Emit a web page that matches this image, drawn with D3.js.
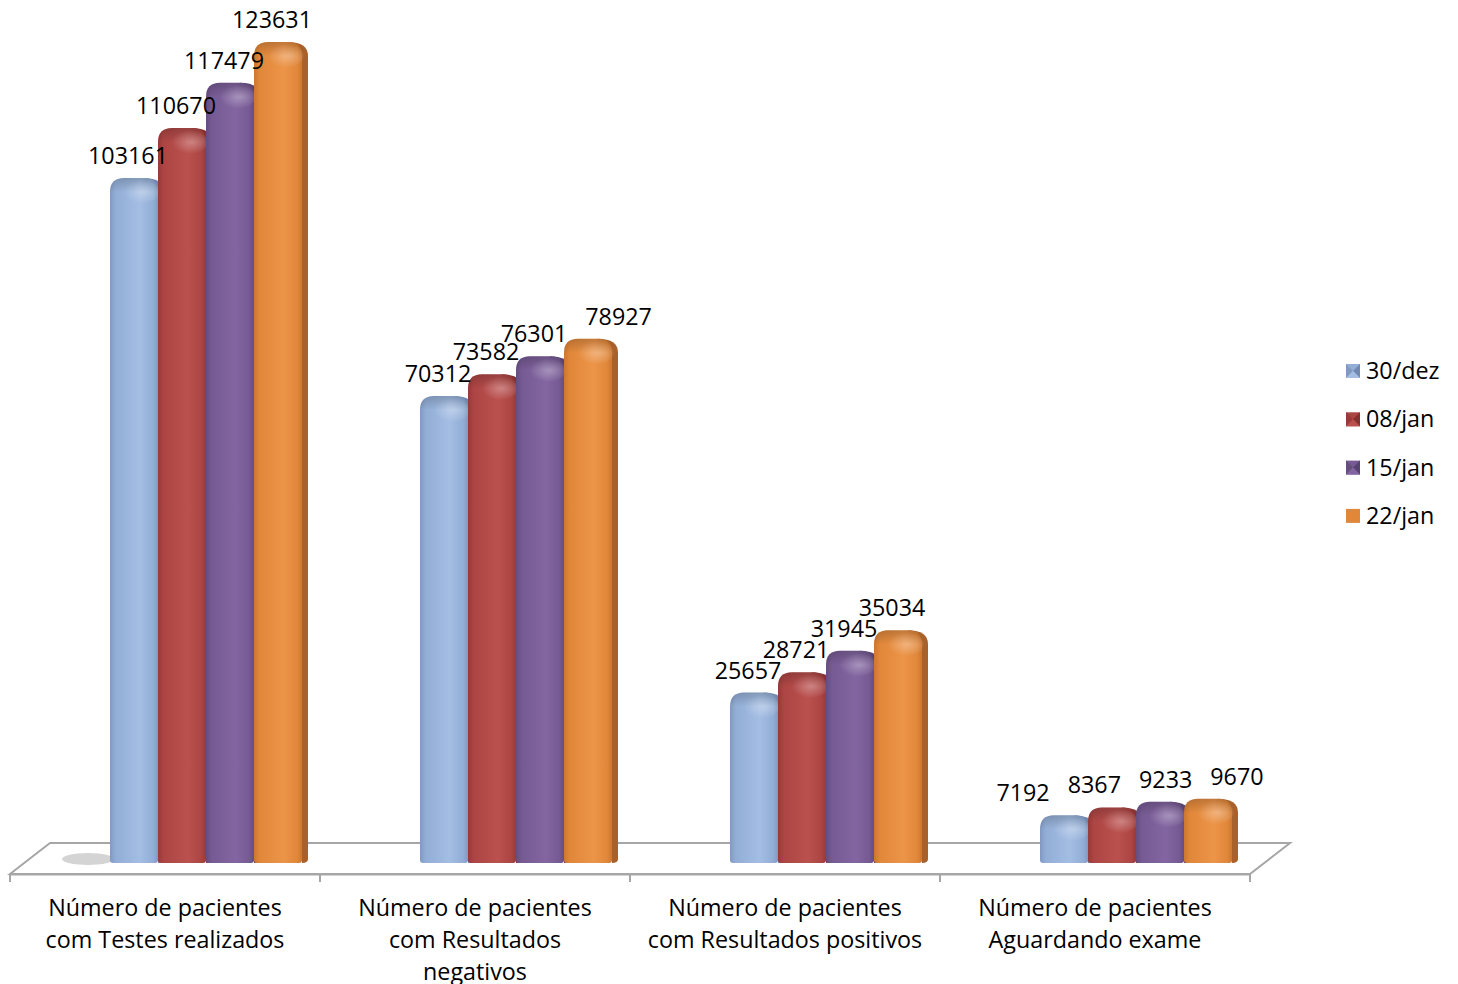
<!DOCTYPE html>
<html><head><meta charset="utf-8">
<script src="https://cdn.jsdelivr.net/npm/d3@7"></script>
<style>body{margin:0;background:#fff}svg{display:block}</style>
</head><body>
<svg id="c" width="1458" height="984"></svg>
<script>
const categories = [
  ["Número de pacientes","com Testes realizados"],
  ["Número de pacientes","com Resultados","negativos"],
  ["Número de pacientes","com Resultados positivos"],
  ["Número de pacientes","Aguardando exame"]
];
const seriesNames = ["30/dez","08/jan","15/jan","22/jan"];
const s30dez = [103161, 70312, 25657, 7192];
const s08jan = [110670, 73582, 28721, 8367];
const s15jan = [117479, 76301, 31945, 9233];
const s22jan = [123631, 78927, 35034, 9670];
const seriesValues = [s30dez, s08jan, s15jan, s22jan];
const colors = [
  {base:"#93AED6", dark:"#8099C2", light:"#A3BDE3", side:"#7189B0"},
  {base:"#AC4543", dark:"#973A39", light:"#BA514F", side:"#843231"},
  {base:"#765A93", dark:"#654D80", light:"#8366A1", side:"#574370"},
  {base:"#E0873A", dark:"#CC7630", light:"#EC9448", side:"#A8612A"}
];
const FONT = "'Open Sans', sans-serif";
const FS = 23.3;

const svg = d3.select("#c");
const defs = svg.append("defs");
colors.forEach((c,i)=>{
  const g = defs.append("linearGradient").attr("id","g"+i).attr("x1","0").attr("x2","1").attr("y1","0").attr("y2","0");
  g.append("stop").attr("offset","0%").attr("stop-color",c.dark);
  g.append("stop").attr("offset","12%").attr("stop-color",c.base);
  g.append("stop").attr("offset","62%").attr("stop-color",c.light);
  g.append("stop").attr("offset","90%").attr("stop-color",c.base);
  g.append("stop").attr("offset","100%").attr("stop-color",c.dark);
  const t = defs.append("radialGradient").attr("id","t"+i).attr("cx","0.6").attr("cy","0.5").attr("r","0.5");
  t.append("stop").attr("offset","0%").attr("stop-color","#fff").attr("stop-opacity",0.3);
  t.append("stop").attr("offset","100%").attr("stop-color","#fff").attr("stop-opacity",0);
});
const rim = defs.append("linearGradient").attr("id","rim").attr("x1","0").attr("x2","0").attr("y1","0").attr("y2","1");
rim.append("stop").attr("offset","0%").attr("stop-color","#000").attr("stop-opacity",0.18);
rim.append("stop").attr("offset","100%").attr("stop-color","#000").attr("stop-opacity",0);

// layout
const floorFrontY = 874, floorBackY = 843, depthX = 40;
const axisLeft = 10, axisRight = 1250;
const baseY = 863;

const x = d3.scaleBand().domain(d3.range(categories.length)).range([axisLeft, axisRight]).paddingInner(0).paddingOuter(0);
const xs = d3.scaleBand().domain(d3.range(seriesNames.length)).range([0, 192]).padding(0);
const y = d3.scaleLinear().domain([0, d3.max(s22jan)]).range([baseY, 42]);
const groupOffset = 100;

// floor
svg.append("path")
  .attr("d", `M${axisLeft},${floorFrontY} L${axisLeft+depthX},${floorBackY} L${axisRight+depthX},${floorBackY} L${axisRight},${floorFrontY} Z`)
  .attr("fill","#fff").attr("stroke","#A6A6A6").attr("stroke-width",2);

// category axis
const axis = d3.axisBottom(x).tickSize(0).tickFormat("");
const ag = svg.append("g").attr("transform",`translate(0,${floorFrontY})`).call(axis);
ag.select(".domain").attr("stroke","#A6A6A6").attr("stroke-width",2);
const tickPos = x.domain().map(d=>x(d)).concat([axisRight]);
ag.selectAll("line.tk").data(tickPos).enter().append("line").attr("class","tk")
  .attr("x1",d=>d).attr("x2",d=>d).attr("y1",0).attr("y2",8)
  .attr("stroke","#A6A6A6").attr("stroke-width",2);

// category labels
categories.forEach((lines,i)=>{
  const cx = x(i)+x.bandwidth()/2;
  const t = svg.append("text").attr("x", cx).attr("y",916)
    .attr("text-anchor","middle").attr("font-family",FONT).attr("font-size",FS).attr("fill","#000");
  lines.forEach((l,j)=>t.append("tspan").attr("x",cx).attr("dy", j===0?0:32).text(l));
});

// shadow under first group
svg.append("ellipse").attr("cx", x(0)+groupOffset-22).attr("cy", baseY-4).attr("rx",26).attr("ry",6).attr("fill","#D4D4D4");

// bars
const bw = xs.bandwidth();
const r = 14, side = 6;
const bars = svg.append("g");
const labels = [];
categories.forEach((c,ci)=>{
  seriesValues.forEach((vals,si)=>{
    const v = vals[ci];
    const x0 = x(ci) + groupOffset + xs(si);
    const yt = y(v);
    const g = bars.append("g");
    g.append("path")
      .attr("d", `M${x0+bw-r},${yt} Q${x0+bw+side},${yt} ${x0+bw+side},${yt+r} L${x0+bw+side},${baseY-4} Q${x0+bw+side},${baseY} ${x0+bw},${baseY} Z`)
      .attr("fill", colors[si].side);
    const front = `M${x0},${baseY-3} L${x0},${yt+r} Q${x0},${yt} ${x0+r},${yt} L${x0+bw-r},${yt} Q${x0+bw},${yt} ${x0+bw},${yt+r} L${x0+bw},${baseY-3} Q${x0+bw},${baseY} ${x0+bw-3},${baseY} L${x0+3},${baseY} Q${x0},${baseY} ${x0},${baseY-3} Z`;
    g.append("path").attr("d", front).attr("fill", `url(#g${si})`);
    g.append("path")
      .attr("d", `M${x0},${yt+r} Q${x0},${yt} ${x0+r},${yt} L${x0+bw-r},${yt} Q${x0+bw},${yt} ${x0+bw},${yt+r} Z`)
      .attr("fill","url(#rim)");
    g.append("ellipse").attr("cx", x0+bw*0.62).attr("cy", yt+r*1.0).attr("rx", bw*0.42).attr("ry", r*0.85)
      .attr("fill", `url(#t${si})`);
    labels.push({ci, si, v, cx: x0 + bw/2 - 6, y: yt - 14});
  });
});

// label layout: spread overlapping labels within each group
const fmt = d3.format("d");
const lg = svg.append("g").attr("font-family",FONT).attr("font-size",FS).attr("fill","#000").attr("text-anchor","middle");
labels.forEach(l=>{
  l.node = lg.append("text").attr("x",l.cx).attr("y",l.y).text(fmt(l.v));
  l.w = l.node.node().getComputedTextLength();
});
const COLL = 17.8, NEAR = 24;
for (let it=0; it<80; it++){
  for (let i=0;i<labels.length-1;i++){
    const a=labels[i], b=labels[i+1];
    if (a.ci!==b.ci) continue;
    if (Math.abs(a.y-b.y) > COLL) continue;
    const need = (a.w+b.w)/2 + 18;
    const gap = b.cx - a.cx;
    if (gap < need - 0.01){
      const p = labels[i-1];
      const dyp = p && p.ci===a.ci ? Math.abs(p.y-a.y) : Infinity;
      const pinned = dyp > COLL && dyp < NEAR;
      if (pinned) { b.cx += need-gap; }
      else { const d=(need-gap)/2; a.cx-=d; b.cx+=d; }
    }
  }
}
labels.forEach(l=>l.node.attr("x",l.cx));

// legend
const leg = svg.append("g").attr("transform","translate(1346,364)");
seriesNames.forEach((n,i)=>{
  const gy = i*48.3;
  const c = colors[i];
  const s = 14;
  const gi = leg.append("g").attr("transform",`translate(0,${gy})`);
  gi.append("rect").attr("width",s).attr("height",s).attr("fill",c.base);
  if (i<3){
    gi.append("path").attr("d",`M0,0 L${s/2},${s/2} L0,${s} Z`).attr("fill",c.dark);
    gi.append("path").attr("d",`M${s},0 L${s/2},${s/2} L${s},${s} Z`).attr("fill",c.side);
    gi.append("path").attr("d",`M0,${s} L${s/2},${s/2} L${s},${s} Z`).attr("fill",c.light);
  }
  gi.append("text").attr("x",20).attr("y",15).attr("font-family",FONT).attr("font-size",FS).attr("fill","#000").text(n);
});
</script>
</body></html>
